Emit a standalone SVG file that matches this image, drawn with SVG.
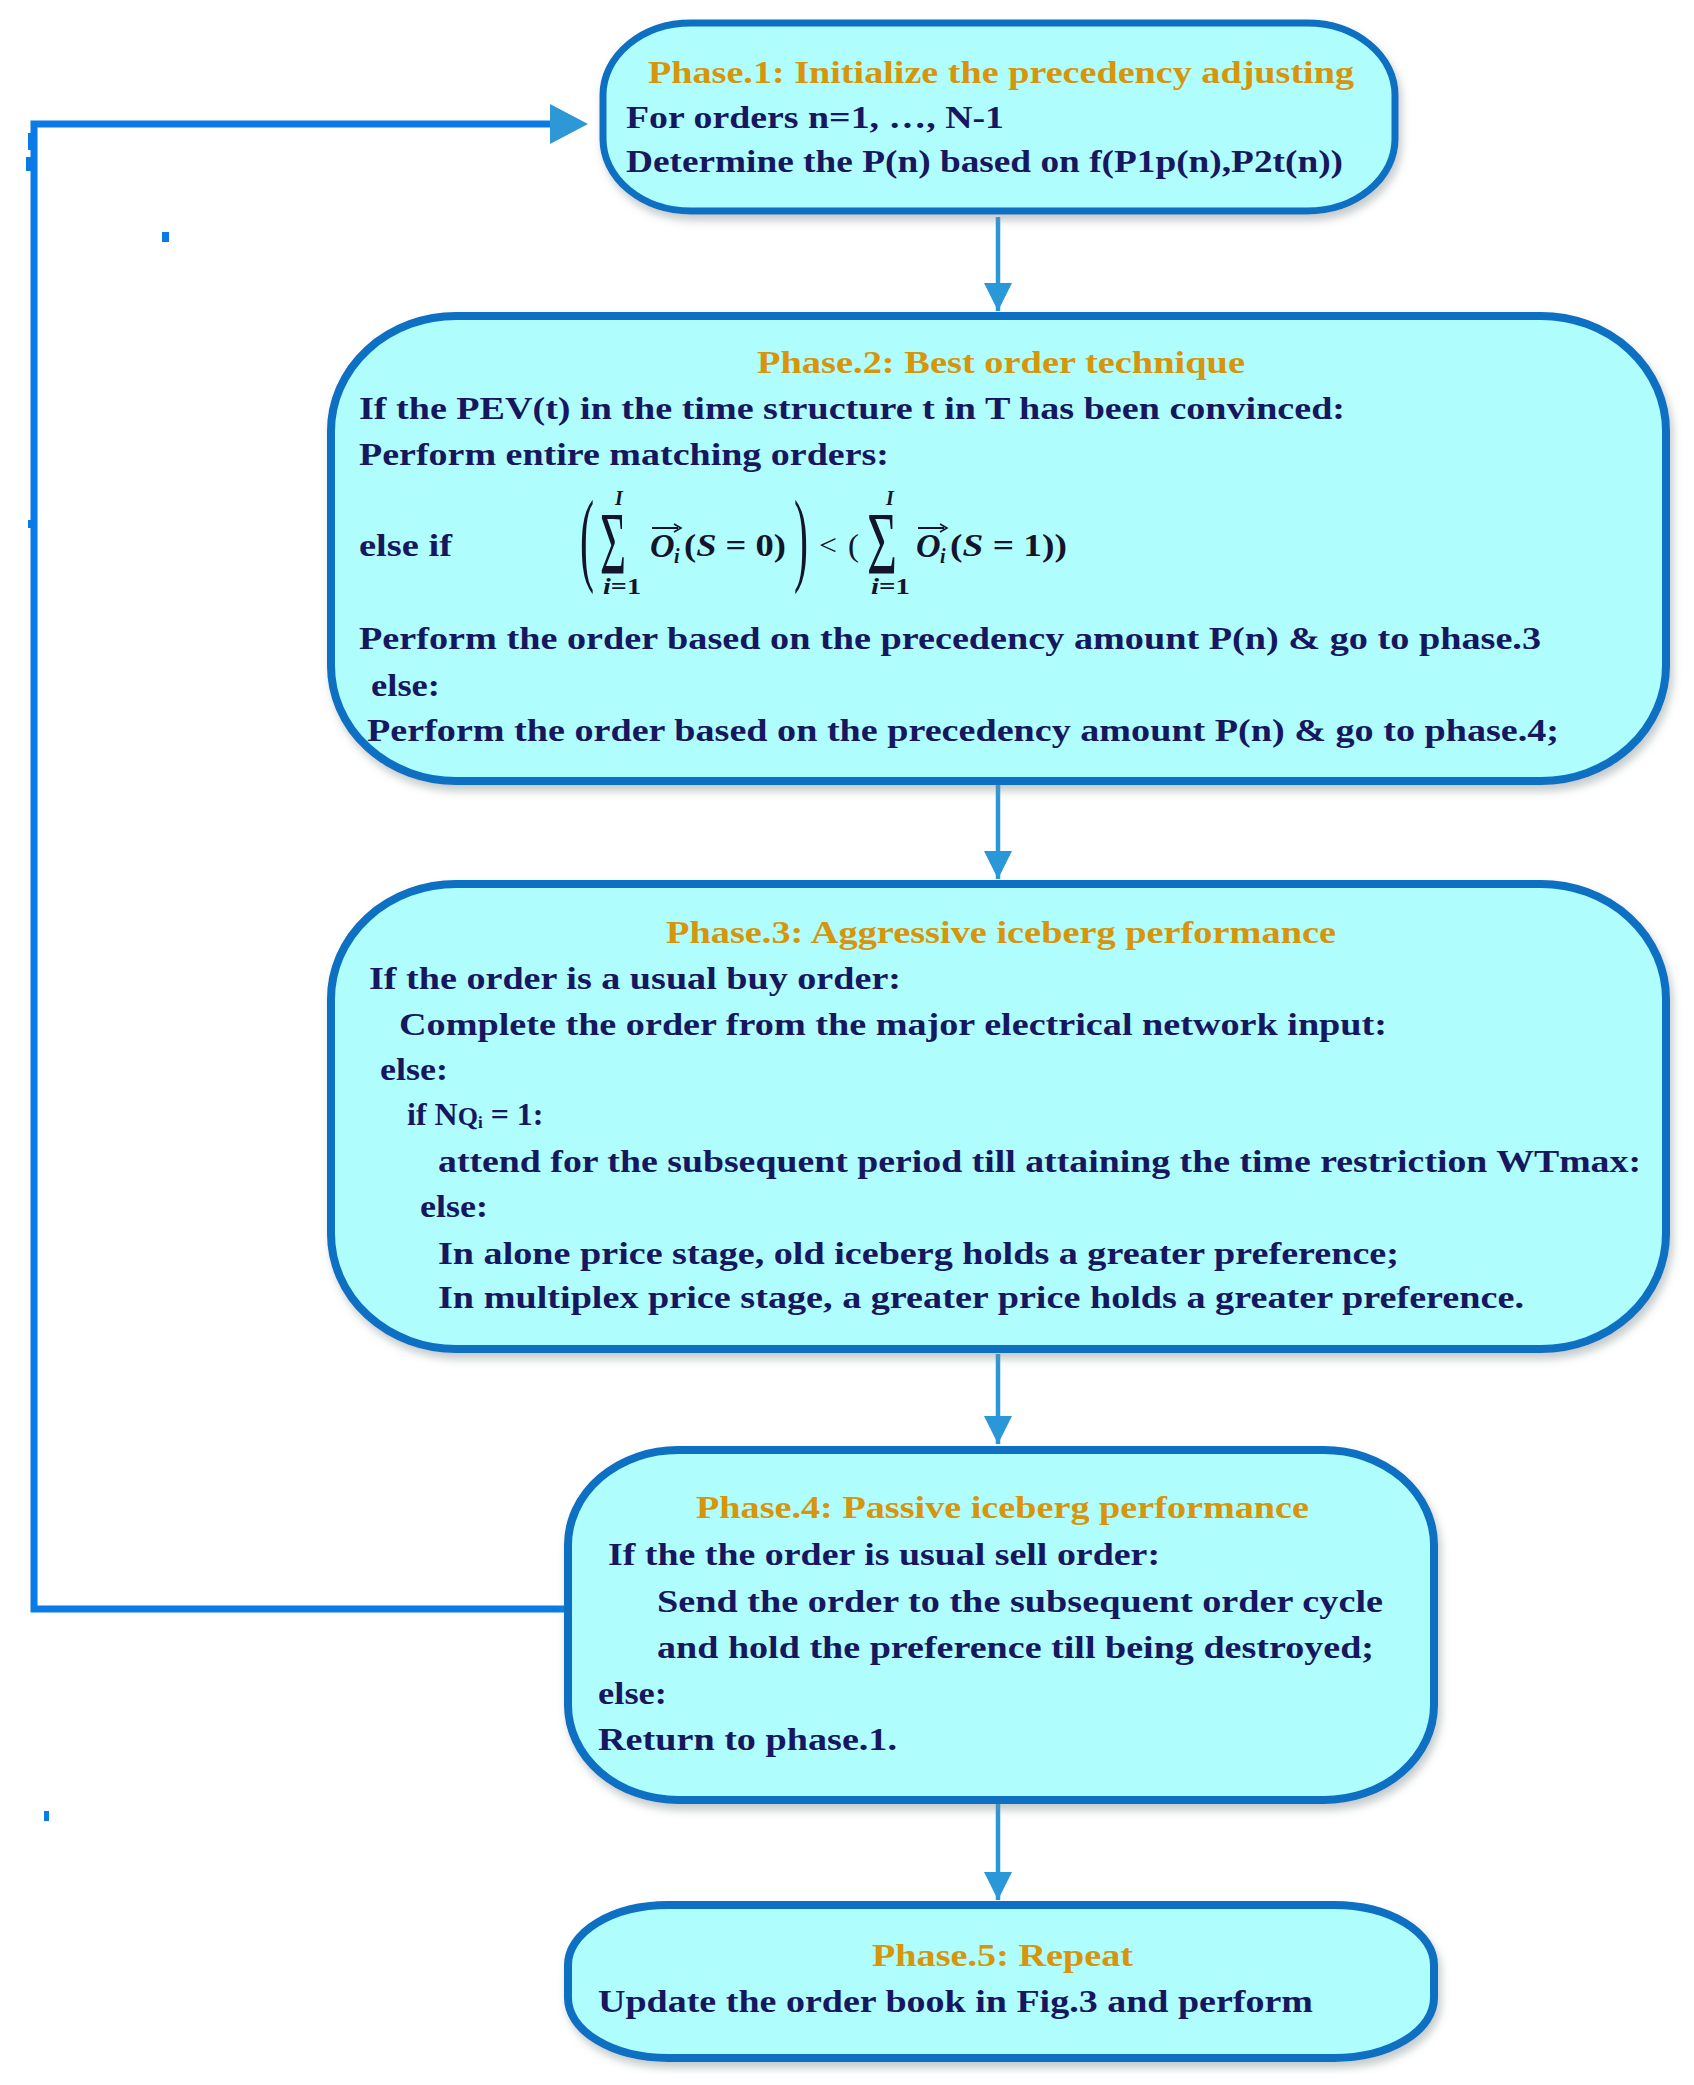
<svg xmlns="http://www.w3.org/2000/svg" width="1694" height="2085" viewBox="0 0 1694 2085">
<defs>
<filter id="sh" x="-5%" y="-5%" width="112%" height="115%">
<feDropShadow dx="3" dy="6" stdDeviation="4" flood-color="#7a8a8a" flood-opacity="0.45"/>
</filter>
<marker id="ah" markerUnits="userSpaceOnUse" markerWidth="30" markerHeight="30" refX="28" refY="14" orient="auto" viewBox="0 0 30 30">
<path d="M0,0 L28,14 L0,28 Z" fill="#2A97D8"/>
</marker>
<marker id="bigah" markerUnits="userSpaceOnUse" markerWidth="42" markerHeight="44" refX="38" refY="21" orient="auto" viewBox="0 0 42 44">
<path d="M0,0 L38,21 L0,42 Z" fill="#2E97D6"/>
</marker>
</defs>
<style>
.box{fill:#B0FDFD;stroke:#0A6FC2;stroke-width:8;filter:url(#sh)}
.t{font-family:"Liberation Serif","Times New Roman",serif;font-weight:bold;font-size:32px;fill:#171760}
.h{font-family:"Liberation Serif","Times New Roman",serif;font-weight:bold;font-size:32px;fill:#D7950C}
.m{font-family:"Liberation Serif","Times New Roman",serif;fill:#14142a}
.conn{fill:none;stroke:#2A97D8;stroke-width:4.5}
.loop{fill:none;stroke:#0A7BE6;stroke-width:7}
</style>
<rect width="1694" height="2085" fill="#ffffff"/>

<g id="connectors">
<line class="conn" x1="998" y1="217" x2="998" y2="311" marker-end="url(#ah)"/>
<line class="conn" x1="998" y1="785" x2="998" y2="879" marker-end="url(#ah)"/>
<line class="conn" x1="998" y1="1354" x2="998" y2="1444" marker-end="url(#ah)"/>
<line class="conn" x1="998" y1="1803" x2="998" y2="1900" marker-end="url(#ah)"/>
<path class="loop" d="M573,1609 L34,1609 L34,124 L552,124"/>
<path d="M550,104 L588,124 L550,144 Z" fill="#2E97D6"/>
<rect x="28" y="133" width="6" height="17" fill="#0A7BE6"/>
<rect x="26" y="157" width="8" height="14" fill="#0A7BE6"/>
<rect x="28" y="520" width="4" height="8" fill="#0A7BE6"/>
<rect x="162" y="232" width="7" height="10" fill="#0A7BE6"/>
<rect x="44" y="1811" width="5" height="10" fill="#0A7BE6"/>
</g>

<g id="phase1">
<rect class="box" x="603" y="23" width="792" height="188" rx="88" ry="72" style="stroke-width:7"/>
<text class="h" x="648" y="83" textLength="706" lengthAdjust="spacingAndGlyphs">Phase.1: Initialize the precedency adjusting</text>
<text class="t" x="626" y="128" textLength="378" lengthAdjust="spacingAndGlyphs">For orders n=1, …, N-1</text>
<text class="t" x="626" y="172" textLength="717" lengthAdjust="spacingAndGlyphs">Determine the P(n) based on f(P1p(n),P2t(n))</text>
</g>

<g id="phase2">
<rect class="box" x="331" y="316" width="1335" height="465" rx="125" ry="115"/>
<text class="h" x="757" y="373" textLength="488" lengthAdjust="spacingAndGlyphs">Phase.2: Best order technique</text>
<text class="t" x="359" y="419" textLength="986" lengthAdjust="spacingAndGlyphs">If the PEV(t) in the time structure t in T has been convinced:</text>
<text class="t" x="359" y="465" textLength="530" lengthAdjust="spacingAndGlyphs">Perform entire matching orders:</text>
<text class="t" x="359" y="556" textLength="93" lengthAdjust="spacingAndGlyphs">else if</text>
<g id="formula">
<text class="m" x="580" y="572" font-size="104" textLength="14" lengthAdjust="spacingAndGlyphs">(</text>
<text class="m" x="600" y="573" font-size="88" textLength="26" lengthAdjust="spacingAndGlyphs">Σ</text>
<text class="m" x="615" y="505" font-size="20" font-style="italic" font-weight="bold">I</text>
<text class="m" x="603" y="594" font-size="24" font-weight="bold" textLength="38" lengthAdjust="spacingAndGlyphs"><tspan font-style="italic">i</tspan>=1</text>
<text class="m" x="650" y="557" font-size="34" font-weight="bold" font-style="italic">O</text>
<text class="m" x="674" y="563" font-size="20" font-weight="bold" font-style="italic">i</text>
<line x1="652" y1="528" x2="678" y2="528" stroke="#14142a" stroke-width="2"/>
<path d="M674,524 L681,528 L674,532" fill="none" stroke="#14142a" stroke-width="1.6"/>
<text class="m" x="684" y="556" font-size="32" font-weight="bold" textLength="102" lengthAdjust="spacingAndGlyphs">(<tspan font-style="italic">S</tspan> = 0)</text>
<text class="m" x="794" y="572" font-size="104" textLength="14" lengthAdjust="spacingAndGlyphs">)</text>
<text class="m" x="819" y="555" font-size="30" textLength="18" lengthAdjust="spacingAndGlyphs">&lt;</text>
<text class="m" x="848" y="556" font-size="32" textLength="11" lengthAdjust="spacingAndGlyphs">(</text>
<text class="m" x="867" y="573" font-size="88" textLength="30" lengthAdjust="spacingAndGlyphs">Σ</text>
<text class="m" x="886" y="505" font-size="20" font-style="italic" font-weight="bold">I</text>
<text class="m" x="871" y="594" font-size="24" font-weight="bold" textLength="39" lengthAdjust="spacingAndGlyphs"><tspan font-style="italic">i</tspan>=1</text>
<text class="m" x="916" y="557" font-size="34" font-weight="bold" font-style="italic">O</text>
<text class="m" x="940" y="563" font-size="20" font-weight="bold" font-style="italic">i</text>
<line x1="918" y1="528" x2="944" y2="528" stroke="#14142a" stroke-width="2"/>
<path d="M940,524 L947,528 L940,532" fill="none" stroke="#14142a" stroke-width="1.6"/>
<text class="m" x="950" y="556" font-size="32" font-weight="bold" textLength="117" lengthAdjust="spacingAndGlyphs">(<tspan font-style="italic">S</tspan> = 1))</text>
</g>
<text class="t" x="359" y="649" textLength="1182" lengthAdjust="spacingAndGlyphs">Perform the order based on the precedency amount P(n) &amp; go to phase.3</text>
<text class="t" x="371" y="696" textLength="69" lengthAdjust="spacingAndGlyphs">else:</text>
<text class="t" x="367" y="741" textLength="1192" lengthAdjust="spacingAndGlyphs">Perform the order based on the precedency amount P(n) &amp; go to phase.4;</text>
</g>

<g id="phase3">
<rect class="box" x="331" y="884" width="1335" height="465" rx="125" ry="115"/>
<text class="h" x="666" y="943" textLength="670" lengthAdjust="spacingAndGlyphs">Phase.3: Aggressive iceberg performance</text>
<text class="t" x="369" y="989" textLength="532" lengthAdjust="spacingAndGlyphs">If the order is a usual buy order:</text>
<text class="t" x="399" y="1035" textLength="988" lengthAdjust="spacingAndGlyphs">Complete the order from the major electrical network input:</text>
<text class="t" x="380" y="1080" textLength="68" lengthAdjust="spacingAndGlyphs">else:</text>
<text class="t" x="407" y="1125">if N<tspan font-size="26">Q</tspan><tspan font-size="17" dy="3">i</tspan><tspan dy="-3"> = 1:</tspan></text>
<text class="t" x="438" y="1172" textLength="1203" lengthAdjust="spacingAndGlyphs">attend for the subsequent period till attaining the time restriction WTmax:</text>
<text class="t" x="420" y="1217" textLength="68" lengthAdjust="spacingAndGlyphs">else:</text>
<text class="t" x="438" y="1264" textLength="961" lengthAdjust="spacingAndGlyphs">In alone price stage, old iceberg holds a greater preference;</text>
<text class="t" x="438" y="1308" textLength="1086" lengthAdjust="spacingAndGlyphs">In multiplex price stage, a greater price holds a greater preference.</text>
</g>

<g id="phase4">
<rect class="box" x="568" y="1450" width="866" height="350" rx="110" ry="95"/>
<text class="h" x="696" y="1518" textLength="613" lengthAdjust="spacingAndGlyphs">Phase.4: Passive iceberg performance</text>
<text class="t" x="608" y="1565" textLength="552" lengthAdjust="spacingAndGlyphs">If the the order is usual sell order:</text>
<text class="t" x="657" y="1612" textLength="726" lengthAdjust="spacingAndGlyphs">Send the order to the subsequent order cycle</text>
<text class="t" x="657" y="1658" textLength="717" lengthAdjust="spacingAndGlyphs">and hold the preference till being destroyed;</text>
<text class="t" x="598" y="1704" textLength="69" lengthAdjust="spacingAndGlyphs">else:</text>
<text class="t" x="598" y="1750" textLength="299" lengthAdjust="spacingAndGlyphs">Return to phase.1.</text>
</g>

<g id="phase5">
<rect class="box" x="568" y="1905" width="866" height="153" rx="100" ry="60"/>
<text class="h" x="872" y="1966" textLength="261" lengthAdjust="spacingAndGlyphs">Phase.5: Repeat</text>
<text class="t" x="598" y="2012" textLength="715" lengthAdjust="spacingAndGlyphs">Update the order book in Fig.3 and perform</text>
</g>
</svg>
